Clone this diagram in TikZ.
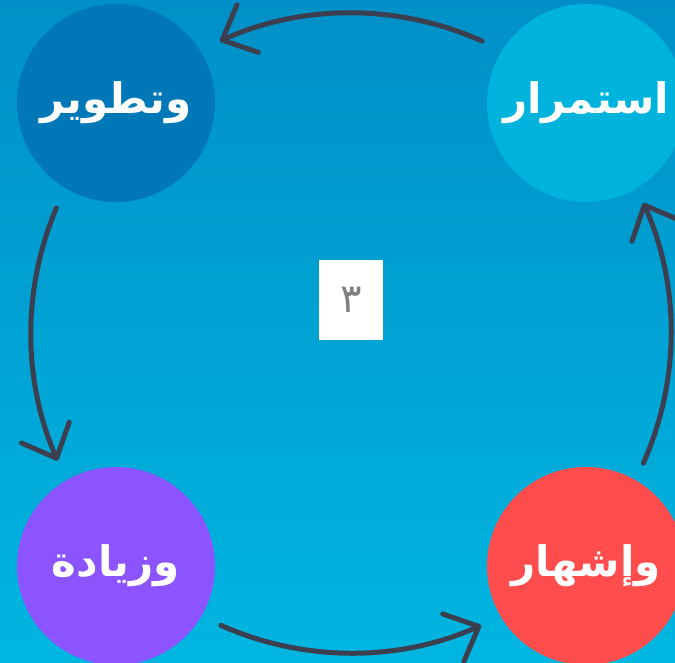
\documentclass[tikz,border=0pt]{standalone}
\usepackage{fontspec}
\usetikzlibrary{arrows.meta}
\TeXXeTstate=1
\newfontfamily\arabicfont[Script=Arabic]{DejaVu Sans}
\definecolor{bgtop}{HTML}{0090C7}
\definecolor{bgbot}{HTML}{00B6E0}
\definecolor{cdark}{HTML}{0078B8}
\definecolor{clight}{HTML}{00B3DD}
\definecolor{cred}{HTML}{FF4D4D}
\definecolor{cpurple}{HTML}{8C54FF}
\definecolor{arrowc}{HTML}{3B3F4F}
\definecolor{numgray}{HTML}{808080}
\begin{document}
\begin{tikzpicture}[x=1pt,y=1pt,
  bubble/.style={circle,minimum size=198pt,inner sep=0pt,text=white,
    font=\arabicfont\bfseries\fontsize{42}{48}\selectfont},
  cyc/.style={draw=arrowc,line width=5pt,line cap=round,line join=round,
    -{Straight Barb[length=28pt,width=52pt,round]}}]
\useasboundingbox (0,0) rectangle (675,-663);
\shade[top color=bgtop,bottom color=bgbot] (0,0) rectangle (675,-663);
\node[bubble,fill=cdark] (tat) at (116,-103) {\beginR وتطوير\endR};
\node[bubble,fill=clight] (ist) at (586,-103) {\beginR استمرار\endR};
\node[bubble,fill=cpurple] (ziy) at (116,-566) {\beginR وزيادة\endR};
\node[bubble,fill=cred] (ish) at (586,-566) {\beginR وإشهار\endR};
\node[fill=white,minimum width=64pt,minimum height=79pt,inner sep=0pt,
  text=numgray,font=\arabicfont\fontsize{40}{46}\selectfont] (num) at (351,-300) {٣};
\coordinate (cen) at (351,-333);
\path (cen) ++(65.8:320pt) coordinate (s1);
\path (cen) ++(157:320pt) coordinate (s2);
\path (cen) ++(246:320pt) coordinate (s3);
\path (cen) ++(336:320pt) coordinate (s4);
\draw[cyc] (s1) arc[start angle=65.8,end angle=114.2,radius=320pt];
\draw[cyc] (s2) arc[start angle=157,end angle=203.5,radius=320pt];
\draw[cyc] (s3) arc[start angle=246,end angle=294,radius=320pt];
\draw[cyc] (s4) arc[start angle=336,end angle=384,radius=320pt];
\end{tikzpicture}
\end{document}
